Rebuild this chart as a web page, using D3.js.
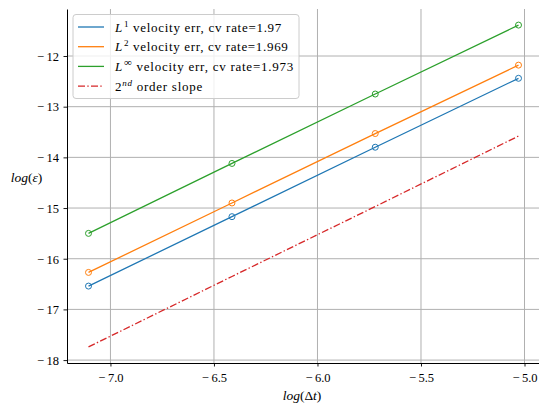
<!DOCTYPE html>
<html><head><meta charset="utf-8">
<script src="https://cdn.jsdelivr.net/npm/d3@7"></script>
<style>
body{margin:0;background:#fff;}
text{font-family:"Liberation Serif","Times New Roman",serif;}
</style></head>
<body><svg id="c" width="539" height="407"></svg>
<script>
const logDt = [-7.106, -6.413, -5.721, -5.029];
const errL1 = [-16.54, -15.17, -13.80, -12.44];
const errL2 = [-16.27, -14.90, -13.53, -12.18];
const errLinf = [-15.50, -14.12, -12.75, -11.39];
const slope2 = [-17.74, -16.35, -14.97, -13.58];
const xTicks = [-7.0, -6.5, -6.0, -5.5, -5.0];
const yTicks = [-12, -13, -14, -15, -16, -17, -18];

const series = [
  {vals: errL1, color: "#1f77b4", sup: "1", label: " velocity err, cv rate=1.97", marker: true, w: 166},
  {vals: errL2, color: "#ff7f0e", sup: "2", label: " velocity err, cv rate=1.969", marker: true, w: 172.5},
  {vals: errLinf, color: "#2ca02c", sup: "∞", label: " velocity err, cv rate=1.973", marker: true, w: 178},
  {vals: slope2, color: "#d62728", dash: true, marker: false, w: 88}
];

const svg = d3.select("#c");
const L = 67, R = 540, T = 9, B = 363;
const xmin = d3.min(logDt), xmax = d3.max(logDt), xm = (xmax - xmin) * 0.05;
const allY = [].concat(errL1, errL2, errLinf, slope2);
const ymin = d3.min(allY), ymax = d3.max(allY), ym = (ymax - ymin) * 0.05;
const x = d3.scaleLinear().domain([xmin - xm, xmax + xm]).range([L, R]);
const y = d3.scaleLinear().domain([ymin - ym, ymax + ym]).range([B, T]);

// grid
const g = svg.append("g");
g.selectAll(".gx").data(xTicks).enter().append("line")
  .attr("x1", d => x(d)).attr("x2", d => x(d)).attr("y1", T).attr("y2", B)
  .attr("stroke", "#b0b0b0").attr("stroke-width", 1);
g.selectAll(".gy").data(yTicks).enter().append("line")
  .attr("y1", d => y(d)).attr("y2", d => y(d)).attr("x1", L).attr("x2", R)
  .attr("stroke", "#b0b0b0").attr("stroke-width", 1);

// axes
const xAxis = d3.axisBottom(x).tickValues(xTicks).tickFormat("").tickSizeInner(3.5).tickSizeOuter(0);
const yAxis = d3.axisLeft(y).tickValues(yTicks).tickFormat("").tickSizeInner(3.5).tickSizeOuter(0);
const gx = svg.append("g").attr("transform", `translate(0,${B})`).call(xAxis);
const gy = svg.append("g").attr("transform", `translate(${L},0)`).call(yAxis);
[gx, gy].forEach(a => {
  a.select(".domain").attr("stroke", "#000").attr("stroke-width", 1);
  a.selectAll(".tick line").attr("stroke", "#000").attr("stroke-width", 0.9);
});
function tickLabel(sel, v, digits) {
  sel.append("tspan").text("−");
  sel.append("tspan").attr("dx", 2.5).text(Math.abs(v).toFixed(digits));
}
gx.selectAll(".tick").each(function(d) {
  const t = d3.select(this).append("text").attr("y", 19).attr("text-anchor", "middle")
    .attr("font-size", 12.5).attr("fill", "#000");
  tickLabel(t, d, 1);
});
gy.selectAll(".tick").each(function(d) {
  const t = d3.select(this).append("text").attr("x", -8).attr("y", 4.3).attr("text-anchor", "end")
    .attr("font-size", 12.5).attr("fill", "#000");
  tickLabel(t, d, 0);
});

// lines
const line = d3.line().x((d, i) => x(logDt[i])).y(d => y(d));
const dashPat = "7,2.3,1.4,2.3";
series.forEach(s => {
  svg.append("path").datum(s.vals).attr("d", line)
    .attr("fill", "none").attr("stroke", s.color).attr("stroke-width", 1.3)
    .attr("stroke-dasharray", s.dash ? dashPat : null);
  if (s.marker) {
    svg.selectAll(null).data(s.vals).enter().append("circle")
      .attr("cx", (d, i) => x(logDt[i])).attr("cy", d => y(d)).attr("r", 3)
      .attr("fill", "none").attr("stroke", s.color).attr("stroke-width", 1);
  }
});

// legend
const lg = svg.append("g");
lg.append("rect").attr("x", 73).attr("y", 14.5).attr("width", 226).attr("height", 84).attr("rx", 3)
  .attr("fill", "#fff").attr("fill-opacity", 0.8).attr("stroke", "#cccccc").attr("stroke-width", 1);
series.forEach((s, i) => {
  const yy = 27 + i * 19.7;
  lg.append("line").attr("x1", 78).attr("x2", 104).attr("y1", yy).attr("y2", yy)
    .attr("stroke", s.color).attr("stroke-width", 1.3).attr("stroke-dasharray", s.dash ? dashPat : null);
  const t = lg.append("text").attr("x", 115).attr("y", yy + 4.5).attr("font-size", 13).attr("fill", "#000");
  if (s.dash) {
    t.append("tspan").text("2");
    t.append("tspan").attr("dy", -5).attr("font-size", 9).attr("font-style", "italic").text("nd");
    t.append("tspan").attr("dy", 5).text(" order slope");
  } else {
    t.append("tspan").attr("font-style", "italic").text("L");
    t.append("tspan").attr("dy", -5).attr("dx", 1).attr("font-size", s.sup === "∞" ? 11 : 9).text(s.sup);
    t.append("tspan").attr("dy", 5).text(s.label);
  }
  const len = t.node().getComputedTextLength();
  const n = t.text().length;
  t.style("letter-spacing", ((s.w - len) / n) + "px");
});

// axis labels
const xl = svg.append("text").attr("x", (L + R) / 2 - 1.5).attr("y", 399.5).attr("text-anchor", "middle").attr("font-size", 13.5);
xl.append("tspan").attr("font-style", "italic").text("log");
xl.append("tspan").text("(Δ");
xl.append("tspan").attr("font-style", "italic").text("t");
xl.append("tspan").text(")");
const yl = svg.append("text").attr("x", 26.5).attr("y", 182).attr("text-anchor", "middle").attr("font-size", 13.5);
yl.append("tspan").attr("font-style", "italic").text("log");
yl.append("tspan").text("(");
yl.append("tspan").attr("font-style", "italic").text("ε");
yl.append("tspan").text(")");
</script></body></html>
